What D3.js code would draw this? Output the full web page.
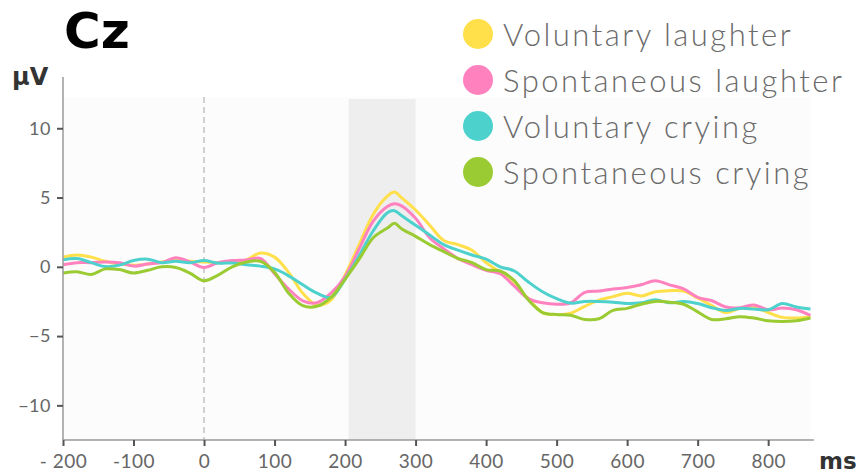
<!DOCTYPE html>
<html>
<head>
<meta charset="utf-8">
<script src="https://cdn.jsdelivr.net/npm/d3@7"></script>
<style>
  body { margin: 0; background: #fff; }
  svg { display: block; }
</style>
</head>
<body>
<svg width="863" height="474"></svg>
<script>
const svg = d3.select('svg');

// time points (ms)
const times = [-200, -180, -160, -140, -120, -100, -80, -60, -40, -20, 0, 20, 40, 60, 80, 100,
  120, 140, 160, 180, 200, 220, 240, 260, 270, 280, 300, 320, 340, 360, 380, 400, 420, 440,
  460, 480, 500, 520, 540, 560, 580, 600, 620, 640, 660, 680, 700, 720, 740, 760, 780, 800,
  820, 840, 860];

const voluntaryLaughter = [0.7, 0.85, 0.7, 0.4, 0.2, 0.12, 0.2, 0.35, 0.5, 0.4, 0.35, 0.3, 0.35, 0.5, 1.0, 0.7,
  -0.4, -1.9, -2.75, -2.4, -0.6, 1.6, 3.8, 5.1, 5.4, 5.0, 4.1, 3.0, 1.9, 1.6, 1.2, 0.3, -0.4, -1.3,
  -2.3, -3.3, -3.45, -3.35, -2.85, -2.4, -2.15, -1.9, -2.1, -1.8, -1.72, -1.75, -2.25, -2.8, -3.3, -3.0, -2.95, -3.3,
  -3.65, -3.7, -3.6];

const spontaneousLaughter = [0.15, 0.3, 0.3, 0.35, 0.3, 0.05, 0.2, 0.3, 0.65, 0.35, -0.05, 0.3, 0.45, 0.5, 0.6, -0.5,
  -1.6, -2.45, -2.6, -1.9, -0.7, 1.3, 3.3, 4.35, 4.55, 4.4, 3.5, 2.1, 1.3, 0.6, 0.15, -0.25, -0.5, -1.4,
  -2.3, -2.6, -2.7, -2.6, -1.85, -1.75, -1.6, -1.5, -1.3, -1.0, -1.3, -1.6, -2.2, -2.45, -2.9, -2.95, -2.75, -3.1,
  -2.98, -3.1, -3.5];

const voluntaryCrying = [0.5, 0.6, 0.3, 0.02, 0.12, 0.45, 0.55, 0.3, 0.4, 0.3, 0.45, 0.26, 0.28, 0.15, 0.05, -0.15,
  -0.65, -1.3, -1.9, -2.2, -0.9, 0.8, 2.6, 3.9, 4.05, 3.7, 3.0, 2.3, 1.6, 1.2, 0.85, 0.55, 0.0, -0.3,
  -1.1, -1.8, -2.3, -2.62, -2.5, -2.5, -2.55, -2.65, -2.6, -2.38, -2.6, -2.5, -2.65, -2.95, -3.15, -3.0, -3.05, -3.1,
  -2.65, -2.9, -3.05];

const spontaneousCrying = [-0.45, -0.35, -0.55, -0.15, -0.2, -0.45, -0.25, 0.0, -0.05, -0.45, -1.0, -0.6, 0.0, 0.35, 0.4, -0.4,
  -1.9, -2.8, -2.85, -2.2, -0.9, 0.55, 2.1, 2.8, 3.15, 2.75, 2.2, 1.6, 1.1, 0.6, 0.3, -0.2, -0.3, -1.0,
  -2.4, -3.3, -3.45, -3.5, -3.8, -3.75, -3.15, -3.0, -2.7, -2.5, -2.55, -2.7, -3.25, -3.8, -3.75, -3.6, -3.7, -3.9,
  -3.95, -3.9, -3.7];

const seriesNames = ['Voluntary laughter', 'Spontaneous laughter', 'Voluntary crying', 'Spontaneous crying'];
const seriesValues = [voluntaryLaughter, spontaneousLaughter, voluntaryCrying, spontaneousCrying];
const colors = ['#ffe04a', '#ff82bf', '#4dd1cd', '#9bcb33'];

const xTicks = [-200, -100, 0, 100, 200, 300, 400, 500, 600, 700, 800];
const yTicks = [10, 5, 0, -5, -10];
const window_ = [205, 300];

const x = d3.scaleLinear().domain([-200, 865]).range([63, 814]);
const y = d3.scaleLinear().domain([-12.5, 13.7]).range([440, 77]);

// faint plot background
svg.append('rect')
  .attr('x', x(-200)).attr('y', 97)
  .attr('width', x(860) - x(-200)).attr('height', 440 - 97)
  .attr('fill', '#fcfcfc');

// analysis window
svg.append('rect')
  .attr('x', x(window_[0])).attr('y', 99)
  .attr('width', x(window_[1]) - x(window_[0])).attr('height', 440 - 99)
  .attr('fill', '#efeeee');

// stimulus onset
svg.append('line')
  .attr('x1', x(0)).attr('x2', x(0))
  .attr('y1', 97).attr('y2', 440)
  .attr('stroke', '#d0d0d0')
  .attr('stroke-width', 2)
  .attr('stroke-dasharray', '6,4');

// lines
const line = d3.line()
  .x((d, i) => x(times[i]))
  .y(d => y(d))
  .curve(d3.curveCatmullRom);

svg.selectAll('path.trace')
  .data(seriesValues)
  .enter()
  .append('path')
  .attr('class', 'trace')
  .attr('d', line)
  .attr('fill', 'none')
  .attr('stroke', (d, i) => colors[i])
  .attr('stroke-width', 3)
  .attr('stroke-linejoin', 'round');

// axes
const xAxis = svg.append('g')
  .attr('transform', 'translate(0,440)')
  .call(d3.axisBottom(x).tickValues(xTicks).tickSize(6).tickPadding(9)
    .tickFormat(d => d === -200 ? '- 200' : d));
const yAxis = svg.append('g')
  .attr('transform', 'translate(63,0)')
  .call(d3.axisLeft(y).tickValues(yTicks).tickSize(6).tickPadding(6));

[xAxis, yAxis].forEach(g => {
  g.select('.domain').attr('stroke', '#9a9a9a').attr('stroke-width', 1.5);
  g.selectAll('.tick line').attr('stroke', '#555').attr('stroke-width', 2);
  g.selectAll('.tick text')
    .attr('fill', '#666')
    .style('font-family', 'Lato, "Open Sans", sans-serif')
    .style('font-size', '19px')
    .style('letter-spacing', '0.5px');
});
yAxis.selectAll('.tick text').style('font-size', '18px');
xAxis.select('.domain').attr('d', 'M63,0H814');
yAxis.select('.domain').attr('d', 'M0,77V440');

// titles
svg.append('text')
  .attr('x', 64).attr('y', 48)
  .attr('fill', '#000')
  .style('font-family', '"DejaVu Sans", sans-serif')
  .style('font-weight', 'bold')
  .style('font-size', '50px')
  .text('Cz');

svg.append('text')
  .attr('x', 12).attr('y', 85)
  .attr('fill', '#333')
  .style('font-family', '"DejaVu Sans", sans-serif')
  .style('font-weight', 'bold')
  .style('font-size', '24px')
  .text('µV');

svg.append('text')
  .attr('x', 819).attr('y', 469)
  .attr('fill', '#333')
  .style('font-family', '"DejaVu Sans", sans-serif')
  .style('font-weight', 'bold')
  .style('font-size', '23px')
  .text('ms');

// legend
const legend = svg.selectAll('g.legend')
  .data(seriesNames)
  .enter()
  .append('g')
  .attr('class', 'legend')
  .attr('transform', (d, i) => `translate(478,${34 + i * 46})`);

legend.append('circle')
  .attr('r', 15)
  .attr('fill', (d, i) => colors[i]);

legend.append('text')
  .attr('x', 25).attr('y', 12)
  .attr('fill', '#6a6a6a')
  .style('font-family', 'Lato, "Open Sans", sans-serif')
  .style('font-weight', 300)
  .style('font-size', '31px')
  .style('letter-spacing', '2.5px')
  .text(d => d);
</script>
</body>
</html>
